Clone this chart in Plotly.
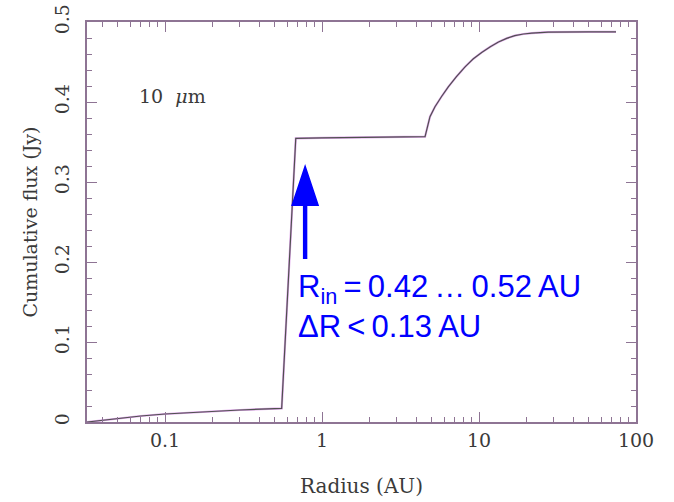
import plotly.graph_objects as go

# Cumulative 10 micron flux as a function of radius
radius_au = [0.0318, 0.0405, 0.0502, 0.07, 0.1, 0.198, 0.3, 0.553,
             0.68, 1.0, 2.0, 4.53,
             4.87, 5.24, 5.8, 6.37, 7.2, 8.15, 9.2, 10.4, 11.8, 13.3,
             15.0, 16.9, 19.2, 21.7, 27.6, 35.0, 50.0, 74.6]
cum_flux_jy = [0.0, 0.0025, 0.0046, 0.0075, 0.010, 0.0134, 0.0150, 0.0171,
               0.3546, 0.3552, 0.3560, 0.3566,
               0.3816, 0.3940, 0.4075, 0.4190, 0.4320, 0.4440, 0.4540, 0.4620, 0.4690, 0.4750,
               0.4795, 0.4830, 0.4850, 0.4862, 0.4873, 0.4876, 0.4876, 0.4876]

x_tick_vals = [0.1, 1, 10, 100]
x_tick_text = ["0.1", "1", "10", "100"]
y_tick_vals = [0, 0.1, 0.2, 0.3, 0.4, 0.5]
y_tick_text = ["0", "0.1", "0.2", "0.3", "0.4", "0.5"]

# inner-edge marker
arrow_radius = 0.78
arrow_tip_flux = 0.3225

frame_color = "#8e7494"
label_color = "#3a3a3a"
serif = "DejaVu Serif"

fig = go.Figure()
fig.add_trace(go.Scatter(x=radius_au, y=cum_flux_jy, mode="lines",
                         line=dict(color="#e0a8ec", width=2.2),
                         hoverinfo="skip", showlegend=False))
fig.add_trace(go.Scatter(x=radius_au, y=cum_flux_jy, mode="lines",
                         line=dict(color="#505050", width=1.2),
                         showlegend=False))

axis_common = dict(
    showline=True, linecolor=frame_color, linewidth=1.5, mirror="ticks",
    ticks="inside", ticklen=10, tickwidth=1.3, tickcolor=frame_color,
    showgrid=False, zeroline=False, automargin=False,
    tickfont=dict(family=serif, size=19, color=label_color),
)

fig.update_xaxes(
    type="log", range=[-1.4975, 2.0],
    tickvals=x_tick_vals, ticktext=x_tick_text, ticklabelstandoff=0,
    minor=dict(ticks="inside", ticklen=5, tickwidth=1.2, tickcolor=frame_color, dtick="D1"),
    title=dict(text="Radius (AU)", font=dict(family=serif, size=20, color=label_color), standoff=29),
    **axis_common,
)
fig.update_yaxes(
    range=[0, 0.5],
    tickvals=y_tick_vals, ticktext=y_tick_text, tickangle=-90, ticklabelstandoff=9,
    minor=dict(ticks="inside", ticklen=5, tickwidth=1.2, tickcolor=frame_color, dtick=0.02),
    title=dict(text="Cumulative flux (Jy)", font=dict(family=serif, size=19, color=label_color), standoff=8),
    **axis_common,
)

# blue arrow: head and shaft drawn in pixels around the tip position
fig.add_shape(type="path", xref="x", yref="y",
              xsizemode="pixel", ysizemode="pixel",
              xanchor=arrow_radius, yanchor=arrow_tip_flux,
              path="M 0 0 L 14 -42 L 2.2 -42 L 2.2 -95 L -2.2 -95 L -2.2 -42 L -14 -42 Z",
              fillcolor="#0000ff", line=dict(width=0))

fig.add_annotation(
    x=-0.166, y=0.144, xref="x", yref="y", xanchor="left", yanchor="middle",
    align="left", showarrow=False,
    text="R<sub>in</sub>\u2009=\u20090.42\u2009\u2026\u20090.52\u2009AU<br>\u0394R\u2009<\u20090.13\u2009AU",
    font=dict(family="Liberation Sans", size=31, color="#0000ff"),
)
fig.add_annotation(
    x=-1.182, y=0.408, xref="x", yref="y", xanchor="left", yanchor="middle",
    showarrow=False, text="10  <i>\u03bc</i>m",
    font=dict(family=serif, size=19, color=label_color),
)

fig.update_layout(
    width=674, height=502,
    margin=dict(l=87, r=38, t=22, b=80, pad=0, autoexpand=False),
    paper_bgcolor="white", plot_bgcolor="white",
)

fig.write_html("out.html")
